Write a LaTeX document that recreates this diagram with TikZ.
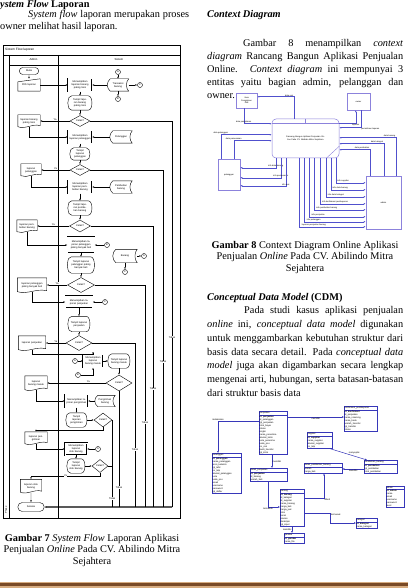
\documentclass[tikz,border=0pt]{standalone}
\usepackage{fontspec}
\setmainfont{Liberation Serif}
\setsansfont{Liberation Sans}
\usetikzlibrary{positioning,shapes.geometric,shapes.misc,shapes.multipart,arrows.meta,calc}

\definecolor{ctxline}{RGB}{80,80,205}
\definecolor{ctxbox}{RGB}{140,130,220}
\definecolor{cdmline}{RGB}{55,55,185}
\definecolor{bartan}{RGB}{215,172,128}
\definecolor{barbrown}{RGB}{122,74,38}

\newcommand{\flowfont}{\fontsize{2.5}{2.9}\selectfont\sffamily}
\newcommand{\ctxfont}{\fontsize{2.1}{2.5}\selectfont\sffamily}
\newcommand{\cdmfont}{\fontsize{2.3}{3}\selectfont\sffamily}
\newcommand{\bodyfont}{\fontsize{10.3}{12}\selectfont}

\tikzset{
  pagetext/.style={anchor=base west, inner sep=0pt, font=\bodyfont},
  captext/.style={anchor=base, inner sep=0pt, font=\bodyfont},
  termbox/.style={draw, rounded rectangle, line width=0.4pt, minimum width=20pt, minimum height=7pt, inner sep=0.3pt, font=\flowfont},
  procbox/.style={draw, double, double distance=0.45pt, line width=0.3pt, minimum width=24pt, minimum height=13pt, text width=22pt, align=center, inner sep=0.4pt, font=\flowfont},
  shapebox/.style={minimum width=22pt, minimum height=12pt, text width=20pt, align=center, inner sep=0.4pt, font=\flowfont},
  decbox/.style={draw, diamond, aspect=1.8, line width=0.4pt, minimum width=20pt, minimum height=11pt, inner sep=0pt, font=\flowfont},
  circlenode/.style={draw, circle, line width=0.4pt, minimum size=5pt, inner sep=0pt, font=\flowfont},
  shapeline/.style={draw, line width=0.4pt},
  flowarrow/.style={line width=0.35pt, -{Latex[length=2pt,width=1.6pt]}},
  flowline/.style={line width=0.35pt},
  answer/.style={font=\flowfont, inner sep=0.3pt, fill=white},
  ctxentity/.style={draw=ctxbox, line width=0.5pt, font=\ctxfont, align=center, inner sep=0.5pt},
  ctxflow/.style={draw=ctxline, line width=0.5pt, -{Latex[length=2pt,width=1.6pt]}},
  ctxlabel/.style={font=\ctxfont, inner sep=0.3pt},
  entitybox/.style={rectangle split, rectangle split parts=2, draw=cdmline, line width=0.4pt, font=\cdmfont, align=left, inner sep=0.5pt, text width=#1, anchor=north west},
  cdmrel/.style={draw=cdmline, line width=0.5pt},
  cdmlabel/.style={font=\cdmfont, inner sep=0.4pt}
}

\begin{document}
\begin{tikzpicture}[x=1pt,y=-1pt]
\useasboundingbox (0,0) rectangle (408,588);
\fill[white] (0,0) rectangle (408,588);

% left column text
\node[pagetext] (headflow) at (0,7.5) {\textbf{\textit{ystem Flow}} \textbf{Laporan}};
\node[pagetext] (introa) at (28,18) {\makebox[161pt][s]{\textit{System flow} laporan merupakan proses}};
\node[pagetext] (introb) at (0,30) {owner melihat hasil laporan.};

% swimlane frame
\draw[line width=0.5pt] (3,45) rectangle (180,518);
\draw[line width=0.4pt] (3,55) -- (180,55);
\draw[line width=0.4pt] (9,65) -- (180,65);
\draw[line width=0.4pt] (9,55) -- (9,518);
\draw[line width=0.4pt] (58,55) -- (58,518);
\node[anchor=west, inner sep=0pt, font=\fontsize{3.2}{3.5}\selectfont\sffamily] (ftitle) at (5,50) {Sistem Flow laporan};
\node[font=\fontsize{2.8}{3}\selectfont\sffamily, inner sep=0pt] (hadmin) at (33.5,60) {Admin};
\node[font=\fontsize{2.8}{3}\selectfont\sffamily, inner sep=0pt] (hsistem) at (119,60) {Sistem};
\node[font=\flowfont, inner sep=0pt, rotate=90] (phase) at (6,510) {Phase};

% flowchart nodes
\node[termbox] (mulai) at (29,71) {Mulai};
\node[shapebox] (pilih) at (29,85) {Pilih laporan};
\node[procbox] (p1) at (80,85) {Menampilkan laporan barang paling laris};
\node[shapebox, minimum width=21pt, text width=17pt] (s1) at (118,85) {Transaksi barang};
\node[circlenode] (c1a) at (118,72) {A};
\node[circlenode] (c1b) at (118,99) {B};
\node[circlenode] (c1c) at (140,85) {C};
\node[shapebox, minimum width=24pt, minimum height=14pt] (t1) at (80,103) {Tampil laporan barang paling laris};
\node[decbox] (d1) at (80,121) {Cetak?};
\node[shapebox] (doc1) at (29,121) {laporan barang paling laris};

\node[procbox] (p2) at (80,137) {Menampilkan laporan pelanggan};
\node[shapebox, minimum width=22pt, text width=17pt] (s2) at (121,137) {Pelanggan};
\node[shapebox, minimum width=20pt, text width=16pt] (t2) at (80,154) {Tampil laporan pelanggan};
\node[decbox] (d2) at (80,170) {Cetak?};
\node[shapebox, minimum width=20pt, text width=18pt] (doc2) at (31,170) {laporan pelanggan};

\node[procbox] (p3) at (80,187) {Menampilkan laporan pembelian barang};
\node[shapebox, minimum width=22pt, text width=17pt] (s3) at (121,187) {Pembelian barang};
\node[shapebox, minimum width=24pt, minimum height=14pt] (t3) at (80,208) {Tampil laporan pembelian barang};
\node[decbox, minimum width=21pt, minimum height=12pt] (d3) at (80,226) {Cetak?};
\node[shapebox, minimum width=20pt, text width=18pt] (doc3) at (27,226) {laporan pembelian barang};

\node[procbox, minimum width=27pt, minimum height=16pt, text width=25pt] (p4) at (81,245) {Menampilkan laporan pelanggan paling banyak beli};
\node[circlenode] (c4) at (107,245) {B};
\node[shapebox, minimum width=24pt, minimum height=13pt, text width=19pt] (s4) at (125,256) {Barang};
\node[circlenode] (c4a) at (144,256) {A};
\node[circlenode] (c4b) at (125,272) {C};
\node[shapebox, minimum width=27pt, minimum height=16pt, text width=22pt] (t4) at (81,265) {Tampil laporan pelanggan paling banyak beli};
\node[decbox, minimum width=27pt, minimum height=15pt] (d4) at (81,285) {Cetak?};
\node[shapebox, minimum width=29pt, minimum height=14pt, text width=26pt] (doc4) at (32,285) {laporan pelanggan paling banyak beli};

\node[procbox, minimum width=27pt, minimum height=12pt, text width=25pt] (p5) at (79,302) {Menampilkan laporan penjualan};
\node[circlenode] (c5) at (105,302) {C};
\node[shapebox, minimum width=22pt, minimum height=15pt, text width=17pt] (t5) at (79,324) {Tampil laporan penjualan};
\node[decbox, minimum width=26pt, minimum height=15pt] (d5) at (79,343) {Cetak?};
\node[shapebox, minimum width=27pt, minimum height=14pt, text width=24pt] (doc5) at (32,343) {laporan penjualan};

\node[procbox, minimum width=20pt, text width=18pt] (p6) at (93,361) {Menampilkan laporan barang masuk};
\node[circlenode] (c6a) at (75,361) {A};
\node[circlenode] (c6b) at (78,375) {B};
\node[shapebox, minimum width=22pt, minimum height=14pt, text width=17pt] (t6) at (119,361) {Tampil laporan barang masuk};
\node[decbox, minimum width=26pt, minimum height=16pt] (d6) at (119,383) {Cetak?};
\node[shapebox, minimum width=22pt, minimum height=14pt, text width=20pt] (doc6) at (36,383) {laporan barang masuk};

\node[procbox, minimum width=23pt, text width=21pt] (p7) at (76.5,401) {Menampilkan laporan pengiriman};
\node[shapebox, minimum width=20pt, minimum height=11pt, text width=16pt] (s7) at (105,401) {Pengiriman barang};
\node[shapebox, minimum width=21pt, minimum height=14pt, text width=16pt] (t7) at (76.5,420) {Tampil laporan pengiriman};
\node[decbox, minimum width=18pt, minimum height=14pt] (d7) at (103,420) {Cetak?};
\node[shapebox, minimum width=22pt, minimum height=12pt, text width=20pt] (doc7) at (36,438) {laporan pengiriman};

\node[procbox, minimum width=22pt, minimum height=12pt, text width=20pt] (p8) at (76,449) {Menampilkan laporan stok barang};
\node[circlenode] (c8) at (98,449) {A};
\node[shapebox, minimum width=18pt, minimum height=14pt, text width=14pt] (t8) at (76,466) {Tampil laporan stok barang};
\node[decbox, minimum width=16pt, minimum height=13pt] (d8) at (100,466) {Cetak?};
\node[shapebox, minimum width=21pt, minimum height=13pt, text width=19pt] (doc8) at (31,486) {laporan stok barang};
\node[termbox, minimum width=27pt, minimum height=9pt] (selesai) at (31,507) {Selesai};

% outlines of the drawn symbols
\draw[shapeline] (pilih.south west) -- (pilih.south east) -- (pilih.north east) -- ($(pilih.north west)+(0,3)$) -- cycle;
\foreach \n in {doc1,doc2,doc3,doc4,doc5,doc6,doc7,doc8}
  \draw[shapeline] (\n.north west) -- (\n.north east) -- ($(\n.south east)+(0,-1.5)$)
    .. controls ($(\n.south)+(4,-4)$) and ($(\n.south)+(-4,2.5)$) .. ($(\n.south west)+(0,-0.5)$) -- cycle;
\foreach \n in {t1,t2,t3,t4,t5,t6,t7,t8}
  \draw[shapeline] ($(\n.north west)+(4,0)$) -- ($(\n.north east)+(-4,0)$)
    .. controls ($(\n.north east)+(1,0)$) and ($(\n.south east)+(1,0)$) .. ($(\n.south east)+(-4,0)$)
    -- ($(\n.south west)+(4,0)$) .. controls ($(\n.south west)+(1,-1)$) .. (\n.west)
    .. controls ($(\n.north west)+(1,1)$) .. ($(\n.north west)+(4,0)$);
\foreach \n in {s1,s2,s3,s4,s7}
  \draw[shapeline] ($(\n.north west)+(3,0)$) -- (\n.north east)
    .. controls ($(\n.north east)+(-3,3)$) and ($(\n.south east)+(-3,-3)$) .. (\n.south east)
    -- ($(\n.south west)+(3,0)$)
    .. controls ($(\n.south west)+(-1,-3)$) and ($(\n.north west)+(-1,3)$) .. ($(\n.north west)+(3,0)$);

% flowchart connectors
\coordinate (bot1) at (172,507);
\draw[flowarrow] (mulai) -- (pilih);
\draw[flowarrow] (pilih) -- (p1);
\draw[flowarrow] (s1) -- (p1);
\draw[flowarrow] (c1a) -- (s1);
\draw[flowarrow] (s1) -- (c1b);
\draw[flowarrow] (s1) -- (c1c);
\draw[flowarrow] (p1) -- (t1);
\draw[flowarrow] (t1) -- (d1);
\draw[flowarrow] (d1) -- node[answer, above] {Ya} (doc1);
\draw[flowline] (d1.east) -| node[answer, pos=0.78] {Tidak} (bot1);

\draw[flowarrow] (doc1.south) |- (p2.west);
\draw[flowarrow] (s2) -- (p2);
\draw[flowarrow] (p2) -- (t2);
\draw[flowarrow] (t2) -- (d2);
\draw[flowarrow] (d2) -- node[answer, above] {Ya} (doc2);
\draw[flowline] (d2.east) -| node[answer, pos=0.785] {Tidak} (bot1 -| 163,0);

\draw[flowarrow] (doc2.south) |- (p3.west);
\draw[flowarrow] (s3) -- (p3);
\draw[flowarrow] (p3) -- (t3);
\draw[flowarrow] (t3) -- (d3);
\draw[flowarrow] (d3) -- node[answer, above] {Ya} (doc3);
\draw[flowline] (d3.east) -| node[answer, pos=0.79] {Tidak} (bot1 -| 153,0);

\draw[flowarrow] (doc3.south) |- (p4.west);
\draw[flowarrow] (c4) -- (p4);
\draw[flowarrow] (s4) -- (c4a);
\draw[flowarrow] (s4) -- (c4b);
\draw[flowarrow] (p4) -- (t4);
\draw[flowarrow] (t4) -- (d4);
\draw[flowarrow] (d4) -- node[answer, above] {Ya} (doc4);
\draw[flowline] (d4.east) -| node[answer, pos=0.81] {Tidak} (bot1 -| 145,0);

\draw[flowarrow] (doc4.south) |- (p5.west);
\draw[flowarrow] (c5) -- (p5);
\draw[flowarrow] (p5) -- (t5);
\draw[flowarrow] (t5) -- (d5);
\draw[flowarrow] (d5) -- node[answer, above] {Ya} (doc5);
\draw[flowline] (d5.east) -| node[answer, pos=0.825] {Tidak} (bot1 -| 135,0);

\draw[flowarrow] (doc5.south) -- ++(0,4) -| (p6.north);
\draw[flowarrow] (c6a) -- (p6);
\draw[flowarrow] (c6b) -| (p6.south);
\draw[flowarrow] (p6) -- (t6);
\draw[flowarrow] (t6) -- (d6);
\draw[flowarrow] (d6) -- node[answer, above, pos=0.3] {Ya} (doc6);
\draw[flowline] (d6.south) -- node[answer, pos=0.83] {Tidak} (d6.south |- bot1);

\draw[flowarrow] (doc6.south) |- (p7.west);
\draw[flowarrow] (s7) -- (p7);
\draw[flowarrow] (p7) -- (t7);
\draw[flowarrow] (t7) -- (d7);
\draw[flowarrow] (d7.south) -- ++(0,3) -| (doc7.north);
\draw[flowline] (d7.east) -- node[answer, pos=0.9] {Tidak} (d7.east |- bot1);

\draw[flowarrow] (doc7.south) |- (p8.west);
\draw[flowarrow] (c8) -- (p8);
\draw[flowarrow] (p8) -- (t8);
\draw[flowarrow] (t8) -- (d8);
\draw[flowarrow] (d8.south) -- ++(0,3) -| node[answer, pos=0.25] {Ya} (doc8.north);
\draw[flowline] (d8.east) -- (d8.east -| d7.east);
\draw[flowarrow] (doc8) -- (selesai);
\draw[flowarrow, line width=1.1pt] (bot1) -- (selesai);

% caption 7
\node[captext] (capsfa) at (92,541) {\textbf{Gambar 7} \textit{System Flow} Laporan Aplikasi};
\node[captext] (capsfb) at (92,552.5) {Penjualan \textit{Online} Pada CV. Abilindo Mitra};
\node[captext] (capsfc) at (92,564) {Sejahtera};

% right column text
\node[pagetext] (headctx) at (207,18) {\textbf{\textit{Context Diagram}}};
\node[pagetext] (ctxa) at (243,47) {\makebox[160pt][s]{Gambar 8 menampilkan \textit{context}}};
\node[pagetext] (ctxb) at (207,60) {\makebox[196pt][s]{\textit{diagram} Rancang Bangun Aplikasi Penjualan}};
\node[pagetext] (ctxc) at (207,73) {\makebox[196pt][s]{Online. \textit{Context diagram} ini mempunyai 3}};
\node[pagetext] (ctxd) at (207,86) {\makebox[196pt][s]{entitas yaitu bagian admin, pelanggan dan}};
\node[pagetext] (ctxe) at (207,99) {owner.};

% context diagram
\node[ctxentity, rounded corners=4pt, minimum width=67pt, minimum height=39pt, text width=58pt] (proc) at (305.5,138.5) {Rancang Bangun Aplikasi Penjualan Online Pada CV. Abilindo Mitra Sejahtera};
\draw[draw=ctxbox, line width=0.4pt] ($(proc.north west)+(0,4)$) -- ($(proc.north east)+(0,4)$);
\draw[draw=ctxbox, line width=0.4pt] (proc.north) -- ($(proc.north)+(0,4)$);
\draw[draw=ctxbox, line width=0.4pt] ($(proc.south east)+(-13,0)$) -- ($(proc.south east)+(0,-12)$);
\node[ctxentity, minimum width=21pt, minimum height=15pt] (jne) at (246.5,100.5) {Jasa\\Pengiriman\\JNE};
\node[ctxentity, minimum width=23pt, minimum height=17pt] (owner) at (358.5,101.5) {owner};
\node[ctxentity, minimum width=22pt, minimum height=31pt] (plg) at (229,174.5) {pelanggan};
\node[ctxentity, minimum width=35pt, minimum height=53pt] (admin) at (383.5,202.5) {admin};

\draw[ctxflow] ($(proc.north west)+(22,0)$) |- node[ctxlabel, pos=0.5, anchor=south east] {data resi} ($(jne.north east)+(0,4)$);
\draw[ctxflow] ($(jne.south west)+(8,0)$) |- node[ctxlabel, pos=0.5, anchor=south] {data pengiriman} ($(proc.north west)+(0,5)$);
\draw[ctxflow] ($(proc.north east)+(0,5)$) -| node[ctxlabel, pos=0.5, anchor=north] {laporan} ($(owner.south west)+(9,0)$);
\draw[ctxflow] ($(owner.south west)+(14,0)$) |- node[ctxlabel, pos=0.5, anchor=north west] {permintaan laporan} ($(proc.north east)+(0,9)$);
\foreach \dx/\yy/\lbl in {3/16/data pelanggan,16/22/data pemesanan}
  \draw[ctxflow] ($(plg.north west)+(\dx,0)$) |- node[ctxlabel, pos=0.5, anchor=south] {\lbl} ($(proc.north west)+(0,\yy)$);
\foreach \dx/\yy/\lbl in {4/9/info data barang,9/19/info pemesanan,14/27/info resi}
  \draw[ctxflow] ($(proc.south west)+(\dx,0)$) |- node[ctxlabel, pos=0.5, anchor=south] {\lbl} ($(plg.north east)+(0,\yy)$);
\foreach \dx/\yy/\lbl in {27/51/laporan penjualan barang,32/46/info pelanggan,37/41/info penjualan,42/34/info pembelian barang,48/28/info konfirmasi pembayaran,54/21/info data kategori,59/14/info data barang,64/7/info supplier}
  \draw[ctxflow] ($(proc.south west)+(\dx,0)$) |- node[ctxlabel, pos=0.52, anchor=south west] {\lbl} ($(admin.north west)+(0,\yy)$);
\foreach \dx/\yy/\lbl in {4/31/data pembelian,18/25/data kategori,30/19/data barang}
  \draw[ctxflow] ($(admin.north west)+(\dx,0)$) |- node[ctxlabel, pos=0.5, anchor=south east] {\lbl} ($(proc.north east)+(0,\yy)$);

% caption 8
\node[captext] (capctxa) at (305,248) {\textbf{Gambar 8} Context Diagram Online Aplikasi};
\node[captext] (capctxb) at (305,259.5) {Penjualan \textit{Online} Pada CV. Abilindo Mitra};
\node[captext] (capctxc) at (305,271) {Sejahtera};

% CDM text
\node[pagetext] (headcdm) at (207,300) {\textbf{\textit{Conceptual Data Model}} \textbf{(CDM)}};
\node[pagetext] (cdma) at (244,313) {\makebox[159pt][s]{Pada studi kasus aplikasi penjualan}};
\node[pagetext] (cdmb) at (207,327) {\makebox[196pt][s]{\textit{online} ini, \textit{conceptual data model} digunakan}};
\node[pagetext] (cdmc) at (207,341) {\makebox[196pt][s]{untuk menggambarkan kebutuhan struktur dari}};
\node[pagetext] (cdmd) at (207,355) {\makebox[196pt][s]{basis data secara detail. Pada \textit{conceptual data}}};
\node[pagetext] (cdme) at (207,368) {\makebox[196pt][s]{\textit{model} juga akan digambarkan secara lengkap}};
\node[pagetext] (cdmf) at (207,382) {\makebox[196pt][s]{mengenai arti, hubungan, serta batasan-batasan}};
\node[pagetext] (cdmg) at (207,396) {dari struktur basis data};

% CDM entities
\node[entitybox=27pt] (penj) at (259,411) {penjualan \nodepart{two} \textbf{id\_penjualan}\\id\_pelanggan\\tgl\_penjualan\\total\_bayar\\status\\ongkir\\nama\_penerima\\alamat\_kirim\\kota\_penerima\\kode\_pos\\no\_resi\\bukti\_transfer\\tgl\_kirim};
\node[entitybox=32pt] (konf) at (344,406) {konfirmasi\_pembayaran \nodepart{two} \textbf{id\_konfirmasi}\\id\_penjualan\\nama\_rekening\\nama\_bank\\jumlah\_transfer\\tgl\_transfer\\status};
\node[entitybox=28pt] (plg2) at (212,453) {pelanggan \nodepart{two} \textbf{id\_pelanggan}\\nama\_pelanggan\\jenis\_kelamin\\tgl\_lahir\\no\_telp\\alamat\_pelanggan\\kota\\kode\_pos\\email\\username\\password\\tgl\_daftar};
\node[entitybox=24pt] (sup) at (307,432) {supplier \nodepart{two} \textbf{id\_supplier}\\nama\_supplier\\alamat\_supplier\\no\_telp};
\node[entitybox=36pt] (dpj) at (250,468) {detail\_penjualan \nodepart{two} \textbf{id\_penjualan}\\id\_barang\\jumlah\_beli};
\node[entitybox=37pt] (dpb) at (304,463) {detail\_pembelian\_barang \nodepart{two} jumlah\\harga\_beli};
\node[entitybox=32pt] (pbl) at (364,460) {pembelian\_barang \nodepart{two} \textbf{id\_pembelian}\\tgl\_pembelian\\total\_pembelian};
\node[entitybox=17pt] (adm) at (386,486) {admin \nodepart{two} \textbf{id\_admin}\\nama\\email\\username\\password\\level};
\node[entitybox=23pt] (brg) at (280,489) {barang \nodepart{two} \textbf{id\_barang}\\id\_kategori\\id\_supplier\\nama\_barang\\harga\_beli\\harga\_jual\\stok\\berat\\ukuran\\deskripsi\\tgl\_input};
\node[entitybox=20pt] (ktg) at (356,518) {kategori \nodepart{two} \textbf{id\_kategori}\\nama\_kategori};
\node[entitybox=19pt] (gmb) at (284,533) {gambar \nodepart{two} \textbf{id\_gambar}\\nama\_file};

% CDM relationships
\draw[cdmrel, -{Latex[length=2pt,width=1.8pt]}] ($(penj.north east)+(0,6)$) -- node[cdmlabel, below] {memiliki} ($(konf.north west)+(0,11)$);
\draw[cdmrel, -{Latex[length=2pt,width=1.8pt]}] ($(penj.north west)+(0,10)$) -| node[cdmlabel, pos=0.5, anchor=south] {melakukan} ($(plg2.north west)+(6,0)$);
\draw[cdmrel, -{Latex[length=2pt,width=1.8pt]}] ($(penj.south west)+(13,0)$) -- node[cdmlabel, right] {memiliki} ($(dpj.north west)+(22,0)$);
\draw[cdmrel, -{Latex[length=2pt,width=1.8pt]}] ($(sup.south east)+(-3,0)$) -- node[cdmlabel, above right] {menyuplai} ($(pbl.north west)+(3,0)$);
\draw[cdmrel, {Latex[length=2pt,width=1.8pt]}-] ($(dpb.north east)+(0,6)$) -- node[cdmlabel, below] {memiliki} ($(pbl.north west)+(0,9)$);
\draw[cdmrel, -{Latex[length=2pt,width=1.8pt]}] ($(dpj.south west)+(18,0)$) |- node[cdmlabel, pos=0.5, anchor=north] {termasuk} ($(brg.north west)+(0,18)$);
\draw[cdmrel, -{Latex[length=2pt,width=1.8pt]}] ($(brg.north east)+(0,9)$) -| node[cdmlabel, pos=0.5, anchor=north west] {dibeli} ($(dpb.south west)+(20,0)$);
\draw[cdmrel, -{Latex[length=2pt,width=1.8pt]}] ($(brg.north east)+(0,24)$) -- ++(26,0) node[cdmlabel, anchor=north west] {termasuk} |- ($(ktg.north west)+(0,5)$);
\draw[cdmrel, -{Latex[length=2pt,width=1.8pt]}] ($(brg.south west)+(12,0)$) -- node[cdmlabel, left] {memiliki} ($(gmb.north west)+(8,0)$);

% footer bar
\fill[bartan] (0,581.5) rectangle (408,587.5);
\fill[barbrown] (0,583) rectangle (408,586);
\end{tikzpicture}
\end{document}
